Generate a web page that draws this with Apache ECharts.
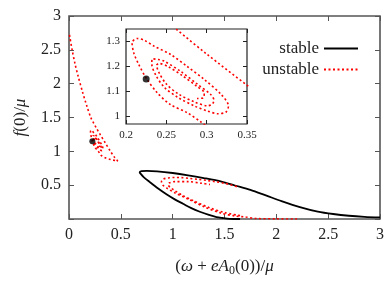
<!DOCTYPE html>
<html><head><meta charset="utf-8">
<script src="https://cdn.jsdelivr.net/npm/echarts@6/dist/echarts.min.js"></script>
<style>html,body{margin:0;padding:0;background:#fff}#c{width:390px;height:282px}</style>
</head><body><div id="c"></div>
<script>
// ---- data ----
const stableX = [1.65,1.55,1.48,1.423,1.35,1.262,1.18,1.10,1.02,0.94,0.86,0.78,0.72,0.69,0.682,0.70,0.75,0.85,1.0,1.149,1.3,1.471,1.6,1.75,1.905,2.05,2.227,2.4,2.548,2.7,2.85,3.0];
const stableY = [0.0,0.003,0.015,0.028,0.06,0.107,0.16,0.225,0.29,0.365,0.45,0.545,0.62,0.67,0.692,0.708,0.712,0.705,0.68,0.646,0.605,0.552,0.495,0.43,0.345,0.265,0.177,0.11,0.074,0.048,0.032,0.023];

const unstableAX = [0.005,0.03,0.06,0.09,0.13,0.17,0.21,0.24,0.262,0.30,0.35,0.40,0.44,0.465,0.47,0.45,0.40,0.35,0.31,0.293,0.276,0.255,0.2387,0.2254,0.2158,0.2096,0.2075,0.2137,0.222,0.2345,0.2554,0.276,0.297,0.318,0.327,0.324,0.314,0.301,0.285,0.265,0.248,0.237,0.232,0.2325,0.24,0.247,0.268,0.289,0.305,0.309,0.307,0.301,0.285,0.265,0.25,0.241,0.238,0.241,0.252,0.27,0.288,0.297,0.296,0.288];
const unstableAY = [2.72,2.5,2.28,2.1,1.88,1.68,1.5,1.41,1.35,1.25,1.125,1.0,0.91,0.865,0.855,0.862,0.88,0.905,0.94,0.978,1.015,1.048,1.095,1.152,1.208,1.255,1.295,1.312,1.306,1.282,1.248,1.20,1.148,1.088,1.042,1.018,1.011,1.022,1.042,1.075,1.115,1.165,1.21,1.231,1.228,1.222,1.18,1.128,1.088,1.065,1.05,1.043,1.058,1.09,1.13,1.175,1.205,1.212,1.2,1.163,1.12,1.095,1.075,1.072];

const unstableBX = [2.2,2.0,1.8,1.7,1.6,1.471,1.31,1.149,1.02,0.94,0.907,0.892,0.91,0.956,1.02,1.085,1.16,1.245,1.33,1.406,1.5,1.62];
const unstableBY = [0.0,0.002,0.008,0.03,0.045,0.084,0.177,0.295,0.388,0.46,0.5,0.552,0.59,0.607,0.613,0.612,0.6,0.585,0.57,0.552,0.528,0.478];

const unstableCX = [1.65,1.5,1.35,1.2,1.1,1.02,0.975,0.956,0.97,1.02,1.149,1.278,1.36];
const unstableCY = [0.05,0.095,0.17,0.27,0.345,0.42,0.47,0.505,0.535,0.552,0.552,0.528,0.51];

const dotX = [0.225];
const dotY = [1.15];

const insetYTicks = [1,1.1,1.2,1.3];

// ---- build ----
const zip = (xs, ys) => xs.map((x, i) => [x, ys[i]]);
const serif = 'Liberation Serif';
const axisCol = '#555';

function frameAxis(gridIndex, pos, min, max, interval, showLabel, fs, custom) {
  const main = gridIndex === 0;
  const a = {
    gridIndex, type: 'value', min, max, position: pos, z: main ? 0 : 4,
    axisLine: { show: false, onZero: false },
    axisTick: { show: true, inside: true, length: main ? 5 : 4, lineStyle: { color: main ? axisCol : '#222' } },
    splitLine: { show: false },
    axisLabel: { show: showLabel, fontFamily: serif, fontSize: fs, color: '#222', margin: main ? 8 : 6 }
  };
  if (custom) {
    a.axisTick.customValues = custom;
    a.axisLabel.customValues = custom;
  } else {
    a.interval = interval;
  }
  return a;
}

const xMain = frameAxis(0, 'bottom', 0, 3, 0.5, true, 16);
xMain.name = '({i|ω} + {i|eA}{sub|0}(0))/{i|μ}';
xMain.nameLocation = 'middle';
xMain.nameGap = 38;
xMain.nameTextStyle = { fontFamily: serif, fontSize: 17, color: '#222',
  rich: { i: { fontStyle: 'italic', fontFamily: serif, fontSize: 17 }, sub: { fontFamily: serif, fontSize: 12, padding: [8, 0, 0, 0] } } };

const yMain = frameAxis(0, 'left', 0, 3, 0.5, true, 16);
yMain.axisLabel.formatter = v => (v === 0 ? '' : String(v));
yMain.name = '{i|f}(0)/{i|μ}';
yMain.nameLocation = 'middle';
yMain.nameGap = 40;
yMain.nameTextStyle = { fontFamily: serif, fontSize: 17, color: '#222',
  rich: { i: { fontStyle: 'italic', fontFamily: serif, fontSize: 17 } } };

const option = {
  animation: false,
  backgroundColor: '#fff',
  grid: [
    { left: 69, right: 10, top: 16, bottom: 53, show: true, backgroundColor: 'transparent', borderColor: axisCol, borderWidth: 1.6 },
    { left: 126, right: 143, top: 29, bottom: 158, show: true, backgroundColor: '#fff', borderColor: '#222', borderWidth: 1.2, z: 3 }
  ],
  legend: {
    data: ['stable', 'unstable'], orient: 'vertical', right: 26, top: 35, align: 'right',
    itemWidth: 34, itemHeight: 10, itemGap: 4,
    itemStyle: { opacity: 0 },
    textStyle: { fontFamily: serif, fontSize: 17, color: '#222' }
  },
  xAxis: [
    xMain,
    frameAxis(0, 'top', 0, 3, 0.5, false, 16),
    frameAxis(1, 'bottom', 0.2, 0.35, 0.05, true, 11),
    frameAxis(1, 'top', 0.2, 0.35, 0.05, false, 11)
  ],
  yAxis: [
    yMain,
    frameAxis(0, 'right', 0, 3, 0.5, false, 16),
    frameAxis(1, 'left', 0.97, 1.35, null, true, 11, insetYTicks),
    frameAxis(1, 'right', 0.97, 1.35, null, false, 11, insetYTicks)
  ],
  series: []
};

const red = { color: '#ff0000', width: 1.6, type: [2, 2.5] };
function line(name, data, xi, yi, style, z) {
  return { name, type: 'line', data, xAxisIndex: xi, yAxisIndex: yi, symbol: 'none', showSymbol: false,
    smooth: 0.3, lineStyle: style, itemStyle: { color: style.color }, clip: true, z: z || 2 };
}
const stableStyle = { color: '#000', width: 1.8, type: 'solid' };
option.series.push(line('stable', zip(stableX, stableY), 0, 0, stableStyle));
option.series.push(line('unstable', zip(unstableAX, unstableAY), 0, 0, red));
option.series.push(line('unstable', zip(unstableBX, unstableBY), 0, 0, red));
option.series.push(line('unstable', zip(unstableCX, unstableCY), 0, 0, red));
option.series.push({ type: 'scatter', data: zip(dotX, dotY), xAxisIndex: 0, yAxisIndex: 0, symbolSize: 6, itemStyle: { color: '#000' }, z: 5 });
// inset
option.series.push(line('unstable', zip(unstableAX, unstableAY), 2, 2, red, 6));
option.series.push({ type: 'scatter', data: zip(dotX, dotY), xAxisIndex: 2, yAxisIndex: 2, symbolSize: 7, itemStyle: { color: '#000' }, z: 7 });

const chart = echarts.init(document.getElementById('c'), null, { renderer: 'canvas' });
chart.setOption(option);
</script>
</body></html>
